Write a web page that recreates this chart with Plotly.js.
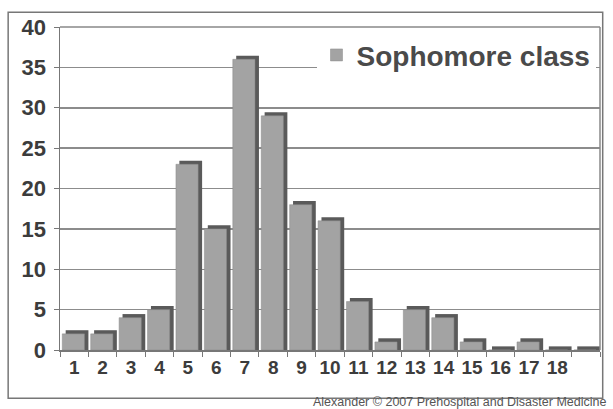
<!DOCTYPE html>
<html><head><meta charset="utf-8">
<script src="https://cdn.plot.ly/plotly-3.0.1.min.js"></script>
<style>html,body{margin:0;padding:0;background:#fff}</style>
</head><body><div id="chart" style="width:613px;height:409px"></div>
<script>
const categories = ["1","2","3","4","5","6","7","8","9","10","11","12","13","14","15","16","17","18"," "];
const sophomore = [2,2,4,5,23,15,36,29,18,16,6,1,5,4,1,0,1,0,0];
const seriesName = "Sophomore class";
const yTicks = [0,5,10,15,20,25,30,35,40];
const depth = 0.45;

const shadow = {
  type: "bar", x: categories, y: sophomore.map(v => v + depth),
  width: 0.8, offset: -0.3,
  marker: {color: "#5a5a5a", line: {width: 0}},
  showlegend: false, hoverinfo: "skip"
};
const main = {
  type: "bar", x: categories, y: sophomore, name: seriesName,
  width: 0.78, offset: -0.42,
  marker: {color: "#a3a3a3", line: {color: "#8a8a8a", width: 0.5}}
};

const layout = {
  width: 613, height: 409,
  margin: {l: 60, r: 13, t: 27, b: 59},
  paper_bgcolor: "#fff", plot_bgcolor: "#fff",
  barmode: "overlay",
  font: {family: "Liberation Sans, Arial, sans-serif", color: "#3c3c3c"},
  xaxis: {
    type: "category", tickson: "boundaries", ticks: "outside", ticklen: 5,
    tickcolor: "#777", showgrid: false, showline: true, linecolor: "#777", linewidth: 1.5,
    tickfont: {size: 19, family: "Liberation Sans, Arial", weight: "bold", color: "#3c3c3c"},
    tickangle: 0, range: [-0.5, 18.5], fixedrange: true
  },
  yaxis: {
    range: [0, 40], tickvals: yTicks, ticks: "outside", ticklen: 5, tickcolor: "#777",
    showgrid: true, gridcolor: "#8c8c8c", gridwidth: 1.5,
    showline: true, linecolor: "#777", linewidth: 1.5, zeroline: false,
    tickfont: {size: 22, family: "Liberation Sans, Arial", weight: "bold", color: "#3c3c3c"},
    ticklabelstandoff: 3
  },
  legend: {
    x: 0.475, y: 0.99, xanchor: "left", yanchor: "top",
    bgcolor: "#fff", borderwidth: 0,
    font: {size: 28, family: "Liberation Sans, Arial", weight: "bold", color: "#4a4a4a"}
  },
  shapes: [
    {type: "rect", xref: "paper", yref: "paper", x0: -0.096, x1: 1.005, y0: -0.149, y1: 1.046,
     line: {color: "#777", width: 1.5}, fillcolor: "rgba(0,0,0,0)", layer: "below"},
    {type: "line", xref: "paper", yref: "paper", x0: 1, x1: 1, y0: 0, y1: 1,
     line: {color: "#888", width: 1.5}},
    {type: "line", xref: "paper", yref: "paper", x0: 0, x1: 1, y0: 1, y1: 1,
     line: {color: "#888", width: 1.5}}
  ],
  annotations: [
    {text: "Alexander © 2007 Prehospital and Disaster Medicine", xref: "paper", yref: "paper",
     x: 1.013, y: -0.135, xanchor: "right", yanchor: "top", showarrow: false, borderpad: 0,
     font: {size: 12.5, color: "#555", family: "Liberation Sans, Arial"}}
  ]
};
Plotly.newPlot("chart", [shadow, main], layout, {displayModeBar: false, staticPlot: true});
</script></body></html>
